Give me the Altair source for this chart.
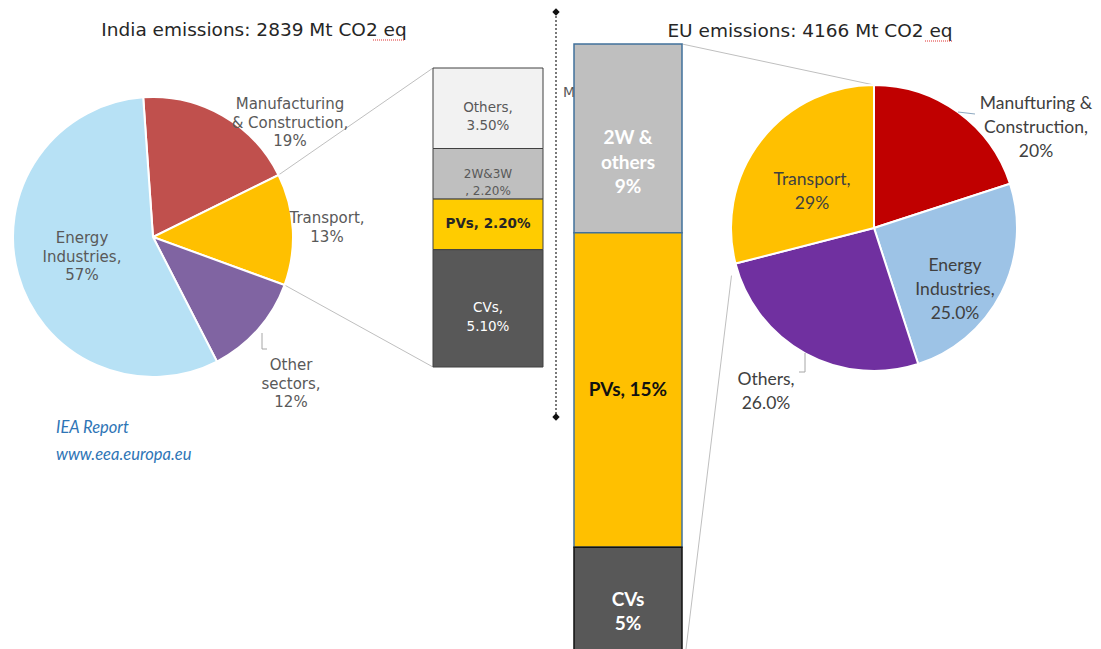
import math

import altair as alt
import pandas as pd

W, H = 1101, 649

# ---- data -------------------------------------------------------------
india_sectors = ["Manufacturing\n& Construction", "Transport", "Other\nsectors", "Energy\nIndustries"]
india_share = [19, 13, 12, 57]

india_modes = ["Others", "2W&3W", "PVs", "CVs"]          # top to bottom
india_mode_share = [3.5, 2.2, 2.2, 5.1]

eu_sectors = ["Manufturing &\nConstruction", "Energy\nIndustries", "Others", "Transport"]
eu_share = [20, 25.0, 26.0, 29]
eu_share_decimals = [0, 1, 1, 0]

eu_modes = ["2W &\nothers", "PVs", "CVs"]                 # top to bottom
eu_mode_share = [9, 15, 5]

# ---- styling ----------------------------------------------------------
INDIA_COLORS = ["#C0504D", "#FFC000", "#8064A2", "#B7E1F5"]
EU_COLORS = ["#C00000", "#9DC3E6", "#7030A0", "#FFC000"]
INDIA_BAR_COLORS = ["#F2F2F2", "#BFBFBF", "#FFCC00", "#585858"]
EU_BAR_COLORS = ["#BFBFBF", "#FFC000", "#585858"]

GOTHIC = "DejaVu Sans"
SANS = "Lato"
LABEL_GREY = "#595959"

IN_CX, IN_CY, IN_R = 153, 237, 140
IN_START = -0.07
EU_CX, EU_CY, EU_R = 874, 228, 143
EU_START = 0.0

IN_BAR_X0, IN_BAR_X1, IN_BAR_TOP, IN_BAR_BOTTOM = 433, 543, 68, 367
EU_BAR_X0, EU_BAR_X1, EU_BAR_TOP, EU_BAR_BOTTOM = 574, 682, 44, 652


def rim_point(cx, cy, r, start, frac):
    a = start + 2 * math.pi * frac
    return cx + r * math.sin(a), cy - r * math.cos(a)


def rule(x, y, x2, y2, color="#BFBFBF", width=1, dash=None):
    kw = dict(color=color, strokeWidth=width)
    if dash:
        kw["strokeDash"] = dash
    return alt.Chart(pd.DataFrame({"k": [0]})).mark_rule(**kw).encode(
        x=alt.value(x), y=alt.value(y), x2=alt.value(x2), y2=alt.value(y2)
    )


def label(text, x, y, **mark):
    return alt.Chart(pd.DataFrame({"t": [text]})).mark_text(
        lineBreak="\n", baseline="middle", **mark
    ).encode(x=alt.value(x), y=alt.value(y), text="t:N")


# ---- pies -------------------------------------------------------------
def pie(sectors, shares, colors, cx, cy, r, start):
    df = pd.DataFrame({"sector": sectors, "share": shares, "idx": range(len(sectors))})
    return alt.Chart(df).mark_arc(outerRadius=r, stroke="white", strokeWidth=2).encode(
        theta=alt.Theta("share:Q", stack=True,
                        scale=alt.Scale(range=[start, start + 2 * math.pi])),
        color=alt.Color("sector:N", scale=alt.Scale(domain=sectors, range=colors), legend=None),
        order=alt.Order("idx:Q"),
        x=alt.value(cx), y=alt.value(cy),
    )


india_pie = pie(india_sectors, india_share, INDIA_COLORS, IN_CX, IN_CY, IN_R, IN_START)
eu_pie = pie(eu_sectors, eu_share, EU_COLORS, EU_CX, EU_CY, EU_R, EU_START)


# ---- stacked breakdown bars ------------------------------------------
def stack_table(modes, shares):
    df = pd.DataFrame({"mode": modes, "share": shares})
    df["hi"] = df["share"][::-1].cumsum()[::-1]
    df["lo"] = df["hi"] - df["share"]
    df["mid"] = (df["hi"] + df["lo"]) / 2
    return df


india_bar_df = stack_table(india_modes, india_mode_share)
eu_bar_df = stack_table(eu_modes, eu_mode_share)

in_y = alt.Scale(domain=[0, sum(india_mode_share)], range=[IN_BAR_BOTTOM, IN_BAR_TOP])
eu_y = alt.Scale(domain=[0, sum(eu_mode_share)], range=[EU_BAR_BOTTOM, EU_BAR_TOP])

india_bar = alt.Chart(india_bar_df).mark_bar(stroke="#404040", strokeWidth=1).encode(
    x=alt.value(IN_BAR_X0), x2=alt.value(IN_BAR_X1),
    y=alt.Y("lo:Q", scale=in_y, axis=None), y2="hi:Q",
    color=alt.Color("mode:N", scale=alt.Scale(domain=india_modes, range=INDIA_BAR_COLORS), legend=None),
)


def india_bar_label(mode, sep, **mark):
    d = india_bar_df[india_bar_df["mode"] == mode].copy()
    d["t"] = d["mode"] + sep + d["share"].map(lambda v: f"{v:.2f}%")
    return alt.Chart(d).mark_text(lineBreak="\n", baseline="middle", **mark).encode(
        x=alt.value((IN_BAR_X0 + IN_BAR_X1) / 2),
        y=alt.Y("mid:Q", scale=in_y, axis=None),
        text="t:N",
    )


india_bar_labels = [
    india_bar_label("Others", ",\n", font=GOTHIC, fontSize=13.5, color=LABEL_GREY, lineHeight=18),
    india_bar_label("2W&3W", "\n, ", font=GOTHIC, fontSize=12, color=LABEL_GREY, lineHeight=17),
    india_bar_label("PVs", ", ", font=GOTHIC, fontSize=13.5, fontWeight="bold", color="#262626"),
    india_bar_label("CVs", ",\n", font=GOTHIC, fontSize=13.5, color="white", lineHeight=19),
]

eu_bar = alt.Chart(eu_bar_df).mark_bar(strokeWidth=1.5).encode(
    x=alt.value(EU_BAR_X0), x2=alt.value(EU_BAR_X1),
    y=alt.Y("lo:Q", scale=eu_y, axis=None), y2="hi:Q",
    color=alt.Color("mode:N", scale=alt.Scale(domain=eu_modes, range=EU_BAR_COLORS), legend=None),
    stroke=alt.Stroke("mode:N", scale=alt.Scale(domain=eu_modes, range=["#41719C", "#41719C", "#111111"]),
                      legend=None),
)


def eu_bar_label(mode, sep, color):
    d = eu_bar_df[eu_bar_df["mode"] == mode].copy()
    d["t"] = d["mode"] + sep + d["share"].map(lambda v: f"{v:g}%")
    return alt.Chart(d).mark_text(lineBreak="\n", baseline="middle", font=SANS, fontSize=19,
                                  fontWeight="bold", color=color, lineHeight=24.5).encode(
        x=alt.value((EU_BAR_X0 + EU_BAR_X1) / 2),
        y=alt.Y("mid:Q", scale=eu_y, axis=None),
        text="t:N",
    )


eu_bar_labels = [
    eu_bar_label("2W &\nothers", "\n", "white"),
    eu_bar_label("PVs", ", ", "#111111"),
    eu_bar_label("CVs", "\n", "white"),
]

# ---- connectors between pies and breakdown bars -----------------------
in_total = sum(india_share)
tr_i = india_sectors.index("Transport")
in_a = rim_point(IN_CX, IN_CY, IN_R, IN_START, sum(india_share[:tr_i]) / in_total)
in_b = rim_point(IN_CX, IN_CY, IN_R, IN_START, sum(india_share[:tr_i + 1]) / in_total)

eu_total = sum(eu_share)
tr_e = eu_sectors.index("Transport")
eu_a = rim_point(EU_CX, EU_CY, EU_R, EU_START, 0.0)
eu_b = rim_point(EU_CX, EU_CY, EU_R, EU_START, sum(eu_share[:tr_e]) / eu_total)

connectors = [
    rule(in_a[0], in_a[1], IN_BAR_X0, IN_BAR_TOP),
    rule(in_b[0], in_b[1], IN_BAR_X0, IN_BAR_BOTTOM),
    rule(EU_BAR_X1, EU_BAR_TOP, eu_a[0], eu_a[1]),
    rule(EU_BAR_X1 + 4, H, eu_b[0] - 4, eu_b[1] + 12),
]

# ---- divider ----------------------------------------------------------
divider = rule(556, 12, 556, 417, color="#222222", width=1.2, dash=[2, 2])
diamonds = [
    alt.Chart(pd.DataFrame({"k": [0]})).mark_point(shape="diamond", filled=True, size=55,
                                                   color="#111111", opacity=1).encode(
        x=alt.value(556), y=alt.value(yy))
    for yy in (12, 417)
]

# ---- titles, pie labels, source --------------------------------------
titles = [
    label("India emissions: 2839 Mt CO2 eq", 254, 30, font=GOTHIC, fontSize=18.5, color="#262626"),
    label("EU emissions: 4166 Mt CO2 eq", 810, 31, font=GOTHIC, fontSize=18.5, color="#262626"),
    rule(373, 40, 405, 40, color="#E03030", width=1, dash=[1, 1]),
    rule(925, 41, 952, 41, color="#E03030", width=1, dash=[1, 1]),
]


def pie_text(sectors, shares, i, decimals=0):
    return f"{sectors[i]},\n{shares[i]:.{decimals}f}%"


in_lbl = dict(font=GOTHIC, fontSize=15, color=LABEL_GREY, lineHeight=18.5)
india_labels = [
    label(pie_text(india_sectors, india_share, 0), 290, 104, **in_lbl),
    label(pie_text(india_sectors, india_share, 1), 327, 218, **in_lbl),
    label(pie_text(india_sectors, india_share, 2), 291, 365, **in_lbl),
    label(pie_text(india_sectors, india_share, 3), 82, 238, **in_lbl),
    rule(262, 333, 262, 349, color="#A6A6A6"),
    rule(262, 349, 267, 349, color="#A6A6A6"),
]

eu_lbl = dict(font=SANS, fontSize=17.5, color="#404040", lineHeight=24)
eu_labels = [
    label(pie_text(eu_sectors, eu_share, 0, eu_share_decimals[0]), 1036, 104, **eu_lbl),
    label(pie_text(eu_sectors, eu_share, 1, eu_share_decimals[1]), 955, 266, **eu_lbl),
    label(pie_text(eu_sectors, eu_share, 2, eu_share_decimals[2]), 766, 380, **eu_lbl),
    label(pie_text(eu_sectors, eu_share, 3, eu_share_decimals[3]), 812, 180, **eu_lbl),
    rule(958, 112, 975, 114, color="#8EA9C1"),
    rule(799, 372, 805, 372, color="#A6A6A6"),
    rule(805, 353, 805, 372, color="#A6A6A6"),
]

hidden_tag = label("Manufacturing", 563, 93, font=GOTHIC, fontSize=14, color=LABEL_GREY, align="left")

source = [
    label("IEA Report", 56, 428, font=SANS, fontSize=16.5, fontStyle="italic", color="#2E75B6", align="left"),
    label("www.eea.europa.eu", 56, 455, font=SANS, fontSize=16.5, fontStyle="italic", color="#2E75B6",
          align="left"),
]

chart = alt.layer(
    *connectors,
    india_pie, eu_pie,
    divider, *diamonds,
    hidden_tag,
    india_bar, *india_bar_labels,
    eu_bar, *eu_bar_labels,
    *titles, *india_labels, *eu_labels, *source,
).resolve_scale(
    theta="independent", color="independent", stroke="independent", y="independent"
).properties(
    width=W, height=H, padding=0, autosize=alt.AutoSizeParams(type="none"), background="white"
).configure_view(stroke=None)

chart.save("out.html", embed_options={"renderer": "svg", "actions": False})
